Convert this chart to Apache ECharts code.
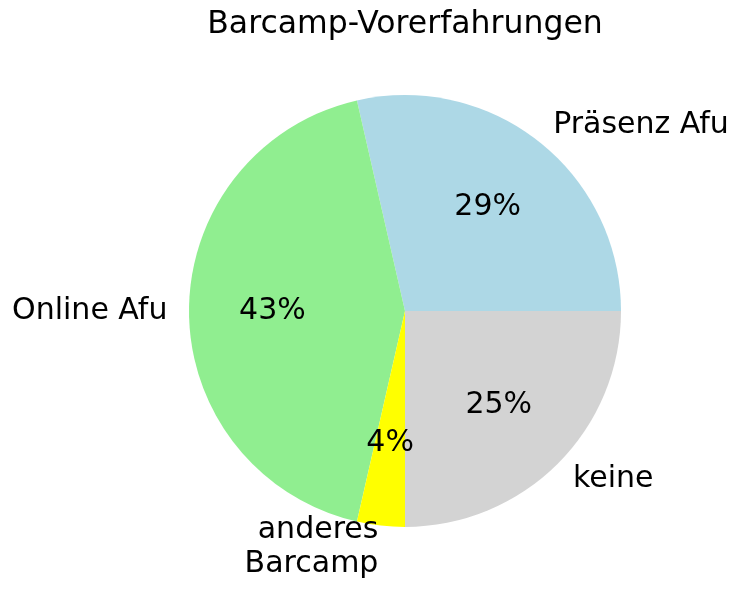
<!DOCTYPE html>
<html>
<head>
<meta charset="utf-8">
<script src="https://cdn.jsdelivr.net/npm/echarts@6/dist/echarts.min.js"></script>
<style>html,body{margin:0;padding:0;background:#fff;}#c{width:741px;height:591px;}</style>
</head>
<body>
<div id="c"></div>
<script>
const categories = ['Präsenz Afu', 'Online Afu', 'anderes\nBarcamp', 'keine'];
const values = [8, 12, 1, 7];
const colors = ['#ADD8E6', '#90EE90', '#FFFF00', '#D3D3D3'];
const titleText = 'Barcamp-Vorerfahrungen';

const R = 216;
const center = [405, 311];
const font = 'DejaVu Sans';

const data = categories.map((c, i) => ({ name: c, value: values[i], itemStyle: { color: colors[i] } }));

const chart = echarts.init(document.getElementById('c'), null, { renderer: 'canvas' });
chart.setOption({
  animation: false,
  backgroundColor: '#ffffff',
  title: {
    text: titleText, left: center[0] - 5, top: 4, textAlign: 'center',
    textStyle: { fontFamily: font, fontSize: 31.5, fontWeight: 'normal', color: '#000' }
  },
  series: [
    {
      type: 'pie', center: center, radius: [0, R],
      startAngle: 0, clockwise: false, avoidLabelOverlap: false,
      silent: true, emphasis: { disabled: true },
      itemStyle: { borderWidth: 0 },
      data: data,
      label: {
        show: true, position: 'outside', formatter: '{b}',
        fontFamily: font, fontSize: 30, color: '#000', lineHeight: 34,
        distanceToLabelLine: 0
      },
      labelLine: { show: false, length: R * 0.1, length2: 0 }
    },
    {
      type: 'pie', center: center, radius: [0, R * 1.2],
      startAngle: 0, clockwise: false, avoidLabelOverlap: false,
      silent: true, emphasis: { disabled: true },
      itemStyle: { color: 'rgba(0,0,0,0)', borderWidth: 0 },
      data: categories.map((c, i) => ({ name: c, value: values[i] })),
      label: {
        show: true, position: 'inside',
        formatter: p => Math.round(p.percent) + '%',
        fontFamily: font, fontSize: 30, color: '#000'
      },
      labelLine: { show: false }
    }
  ]
});
</script>
</body>
</html>
